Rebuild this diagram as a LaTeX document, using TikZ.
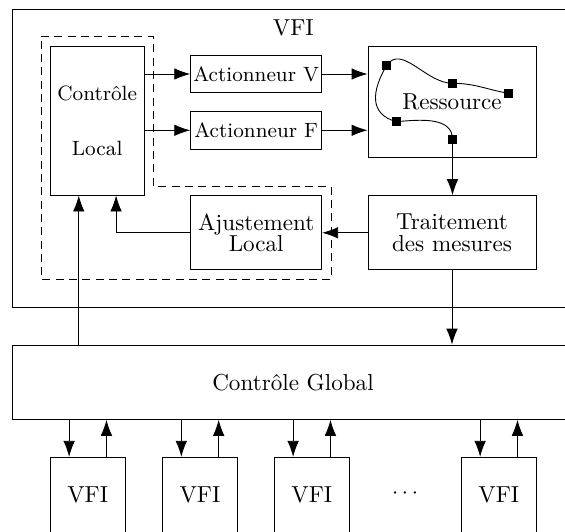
\documentclass[tikz,border=0pt]{standalone}
\usepackage{fontspec}
\usetikzlibrary{arrows.meta}
\tikzset{
  box/.style 2 args={draw, rectangle, inner sep=0pt, minimum width=#1*0.45pt, minimum height=#2*0.45pt, align=center},
  sq/.style={fill, rectangle, inner sep=0pt, minimum size=4pt},
  arr/.style={-{Latex[length=7.2pt,width=5.2pt]}},
  dashbox/.style={dash pattern=on 3.6pt off 2.4pt},
  smallfont/.style={font=\fontsize{9.3}{11}\selectfont},
}
\begin{document}
\begin{tikzpicture}[x=0.45pt,y=-0.45pt, line width=0.4pt, every node/.append style={font=\fontsize{10.4}{12.5}\selectfont}]
\useasboundingbox (0,0) rectangle (565,532);
\clip (0,0) rectangle (565,532);
% outer VFI
\node[box={560.6}{298.3}] (outer) at (293,158.15) {};
\node (vfil) at (293.3,28.3) {VFI};
% dashed local region
\draw[dashbox] (41,36.7) -- (153.3,36.7) -- (153.3,186) -- (331,186) -- (331,279.3) -- (41,279.3) -- cycle;
% blocks
\node[box={93.7}{148.7}, smallfont] (cl) at (97.2,120.7) {Contrôle\\[14pt]Local};
\node[box={131}{37.4}, smallfont] (av) at (256.2,74) {Actionneur V};
\node[box={131}{37.4}, smallfont] (af) at (256.2,130.3) {Actionneur F};
\node[box={168}{111.4}] (res) at (452,102) {Ressource};
\node[box={168}{74.3}] (tr) at (452,232.8) {Traitement\\[-2.9pt]des mesures};
\node[box={131}{74.3}] (aj) at (256.2,232.8) {Ajustement\\[-2.9pt]Local};
\node[box={560.6}{74.3}] (cg) at (293,382.2) {Contrôle Global};
\node[box={75}{75}] (v1) at (87.8,494.8) {VFI};
\node[box={75}{75}] (v2) at (200,494.8) {VFI};
\node[box={75}{75}] (v3) at (311.8,494.8) {VFI};
\node[box={75}{75}] (v4) at (498.8,494.8) {VFI};
\node (dots) at (405,494) {$\cdots$};
% resource curve
\path (386.5,65.5) coordinate (p1) (452.5,83.3) coordinate (p2) (508.3,93.3) coordinate (p3)
      (396.5,121.7) coordinate (p4) (452.5,139.3) coordinate (p5);
\draw (p1) to[out=55,in=180] (p2) to[out=0,in=170] (p3);
\draw (p1) to[out=240,in=165,looseness=1.3] (p4) to[out=5,in=90] (p5);
\node[sq] (s1) at (p1) {};
\node[sq] (s2) at (p2) {};
\node[sq] (s3) at (p3) {};
\node[sq] (s4) at (p4) {};
\node[sq] (s5) at (p5) {};
% connectors
\draw[arr] (av.west -| cl.east) -- (av.west);
\draw[arr] (af.west -| cl.east) -- (af.west);
\draw[arr] (av.east) -- (av.east -| res.west);
\draw[arr] (af.east) -- (af.east -| res.west);
\draw[arr] (s5) -- (s5 |- tr.north);
\draw[arr] (tr.west) -- (aj.east);
\draw[arr] (aj.west) -| ([xshift=8.5pt]cl.south);
\draw[arr] ([xshift=-8.3pt]cl.south |- cg.north) -- ([xshift=-8.3pt]cl.south);
\draw[arr] (tr.south) -- (tr.south |- cg.north);
\foreach \v in {v1,v2,v3,v4}{
  \draw[arr] ([xshift=-8.4pt]\v.north |- cg.south) -- ([xshift=-8.4pt]\v.north);
  \draw[arr] ([xshift=8.4pt]\v.north) -- ([xshift=8.4pt]\v.north |- cg.south);
}
\end{tikzpicture}
\end{document}
